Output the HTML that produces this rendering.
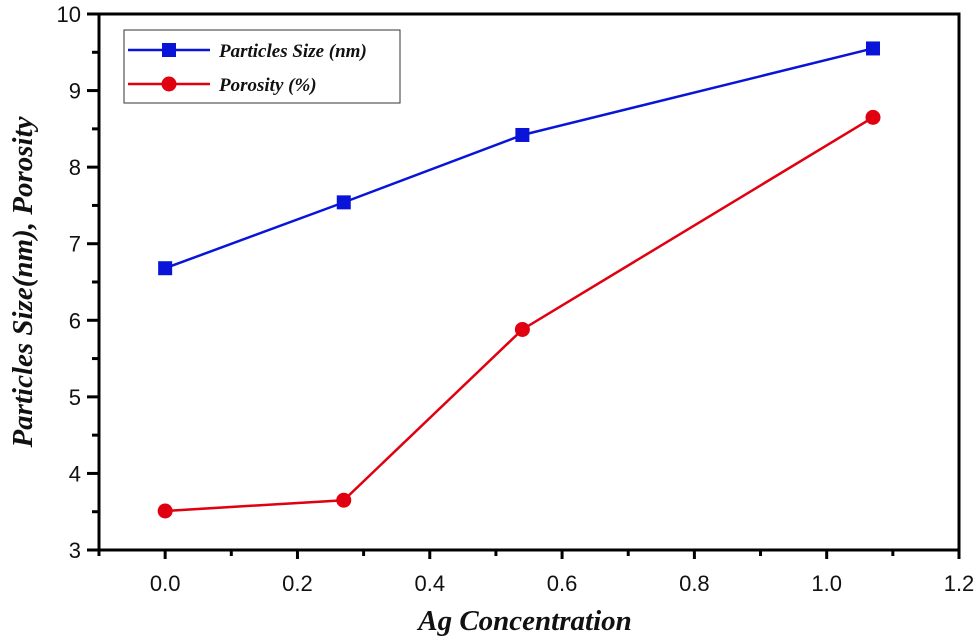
<!DOCTYPE html>
<html><head><meta charset="utf-8"><style>
body{margin:0;background:#fff;}
svg{display:block;}
.tk{font-family:"Liberation Sans",sans-serif;font-size:22px;fill:#111;}
.tt{font-family:"Liberation Serif",serif;font-weight:bold;font-style:italic;font-size:29px;fill:#111;}
.lg{font-family:"Liberation Serif",serif;font-weight:bold;font-style:italic;font-size:19px;fill:#111;}
</style></head><body>
<svg id="chart" width="976" height="640"></svg>
<script>
const categories=[0,0.27,0.54,1.07];
const particleSize=[6.68,7.54,8.42,9.55];
const porosity=[3.51,3.65,5.88,8.65];
const xTicks=["0.0","0.2","0.4","0.6","0.8","1.0","1.2"];
const yTicks=["3","4","5","6","7","8","9","10"];
const L=99,R=959,T=14,B=550;
const X=v=>L+(v+0.1)/1.3*(R-L);
const Y=v=>B-(v-3)/7*(B-T);
const svg=document.getElementById('chart');
const NS='http://www.w3.org/2000/svg';
function mk(t,a,p){const e=document.createElementNS(NS,t);for(const k in a)e.setAttribute(k,a[k]);(p||svg).appendChild(e);return e;}
const fr=mk('rect',{x:L,y:T,width:R-L,height:B-T,fill:'none',stroke:'#000','stroke-width':3});


for(let i=0;i<=13;i++){const v=-0.1+i*0.1;const x=X(v);const major=i%2==1;
 mk('line',{x1:x,y1:B,x2:x,y2:B+(major?9:6),stroke:'#000','stroke-width':3});}
xTicks.forEach(s=>{const t=mk('text',{x:X(parseFloat(s)),y:B+41,'text-anchor':'middle',class:'tk'});t.textContent=s;
 
 });
for(let i=0;i<=14;i++){const v=3+i*0.5;const y=Y(v);const major=i%2==0;
 mk('line',{x1:L,y1:y,x2:L-(major?12:7),y2:y,stroke:'#000','stroke-width':3});}
yTicks.forEach(s=>{const t=mk('text',{x:81,y:Y(parseFloat(s))+8,'text-anchor':'end',class:'tk'});t.textContent=s;
 
 });
const xt=mk('text',{x:525,y:630,'text-anchor':'middle',class:'tt'});xt.textContent='Ag Concentration';


const yt=mk('text',{x:0,y:0,'text-anchor':'middle',class:'tt',transform:'translate(32,282) rotate(-90)'});yt.textContent='Particles Size(nm), Porosity';


function series(vals,color,shape,name){
 const pts=categories.map((c,i)=>X(c)+','+Y(vals[i])).join(' ');
 const pl=mk('polyline',{points:pts,fill:'none',stroke:color,'stroke-width':2.5});
 
 
 categories.forEach((c,i)=>{let m;
  if(shape=='sq')m=mk('rect',{x:X(c)-7,y:Y(vals[i])-7,width:14,height:14,fill:color});
  else m=mk('circle',{cx:X(c),cy:Y(vals[i]),r:7.5,fill:color});
  
  });
}
series(particleSize,'#0a14d8','sq','particle-size');
series(porosity,'#e00010','ci','porosity');
const lgb=mk('rect',{x:124,y:30,width:276,height:73,fill:'#fff',stroke:'#333','stroke-width':1});


mk('line',{x1:128,y1:50,x2:210,y2:50,stroke:'#0a14d8','stroke-width':2.5});
mk('rect',{x:162,y:43,width:14,height:14,fill:'#0a14d8'});
const l1=mk('text',{x:219,y:57,class:'lg'});l1.textContent='Particles Size (nm)';


mk('line',{x1:128,y1:84,x2:210,y2:84,stroke:'#e00010','stroke-width':2.5});
mk('circle',{cx:169,cy:84,r:7.5,fill:'#e00010'});
const l2=mk('text',{x:219,y:91,class:'lg'});l2.textContent='Porosity (%)';


</script>
</body></html>
